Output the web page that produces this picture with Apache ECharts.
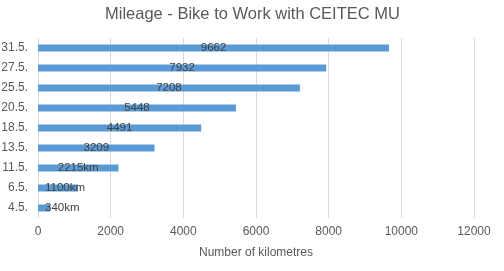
<!DOCTYPE html>
<html><head><meta charset="utf-8">
<script src="https://cdn.jsdelivr.net/npm/echarts@6/dist/echarts.min.js"></script>
<style>html,body{margin:0;padding:0;background:#fff}#c{width:504px;height:271px}</style>
</head><body><div id="c"></div>
<script>
const categories = ['31.5.', '27.5.', '25.5.', '20.5.', '18.5.', '13.5.', '11.5.', '6.5.', '4.5.'];
const values = [9662, 7932, 7208, 5448, 4491, 3209, 2215, 1100, 340];
const labels = ['9662', '7932', '7208', '5448', '4491', '3209', '2215km', '1100km', '340km'];
const xTicks = [0, 2000, 4000, 6000, 8000, 10000, 12000];

const font = 'Liberation Sans, Arial, sans-serif';
const chart = echarts.init(document.getElementById('c'), null, {renderer: 'canvas'});
chart.setOption({
  animation: false,
  title: {
    text: 'Mileage - Bike to Work with CEITEC MU',
    left: 100, top: 1,
    textStyle: {fontFamily: font, fontSize: 16.5, fontWeight: 'normal', color: '#595959'}
  },
  grid: {left: 38, right: 30, top: 38, bottom: 53, containLabel: false, outerBoundsMode: 'none'},
  xAxis: {
    type: 'value', min: xTicks[0], max: xTicks[xTicks.length - 1], interval: 2000,
    name: 'Number of kilometres', nameLocation: 'middle', nameGap: 29,
    nameTextStyle: {fontFamily: font, fontSize: 12, color: '#595959'},
    axisLine: {show: false}, axisTick: {show: false},
    axisLabel: {fontFamily: font, fontSize: 12, color: '#595959', margin: 8,
      formatter: v => String(v)},
    splitLine: {lineStyle: {color: '#d9d9d9', width: 1}}
  },
  yAxis: {
    type: 'category', data: categories, inverse: true,
    axisLine: {show: false}, axisTick: {show: false},
    axisLabel: {fontFamily: font, fontSize: 12, color: '#595959', margin: 10}
  },
  series: [{
    type: 'bar',
    data: values.map((v, i) => ({
      value: v,
      label: v < 1500 ? {position: 'insideLeft', distance: 7} : {position: 'inside'}
    })),
    barWidth: 7,
    itemStyle: {color: '#5B9BD5'},
    label: {
      show: true, fontFamily: font, fontSize: 11.5, color: '#404040',
      formatter: p => labels[p.dataIndex]
    }
  }]
});
</script></body></html>
